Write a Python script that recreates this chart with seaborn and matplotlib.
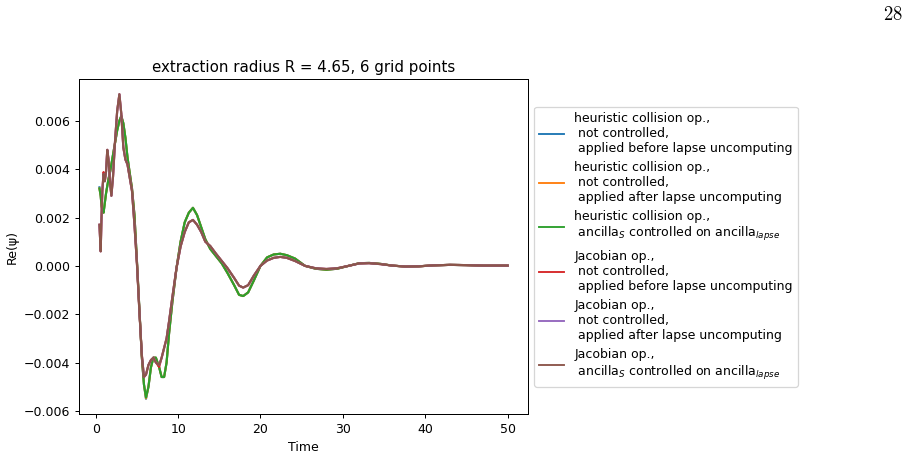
import matplotlib
matplotlib.use("Agg")
import matplotlib.pyplot as plt
import seaborn as sns

# time samples
time = [0.45, 0.6, 0.7, 0.8, 0.95, 1.1, 1.25, 1.4, 1.55, 1.75, 1.9, 2.1, 2.35, 2.6,
        2.87, 3.1, 3.35, 3.6, 3.85, 4.1, 4.4, 4.7, 5.0, 5.3, 5.6, 5.85, 6.1, 6.4,
        6.7, 7.0, 7.3, 7.7, 8.0, 8.3, 8.6, 8.9, 9.3, 9.8, 10.3, 10.8, 11.3, 11.8,
        12.3, 12.8, 13.3, 13.9, 14.6, 15.3, 16.0, 16.8, 17.4, 17.9, 18.5, 19.2,
        20.0, 20.8, 21.6, 22.4, 23.2, 24.2, 25.4, 26.7, 28.0, 29.3, 30.7, 32.0,
        33.2, 34.6, 36.0, 37.6, 39.2, 41.0, 43.0, 45.0, 47.0, 50.0]

# heuristic collision op., ancilla_S controlled on ancilla_lapse (green)
heur_ctrl = [0.0032, 0.0029, 0.0025, 0.0023, 0.0022, 0.0026, 0.0030, 0.0033, 0.0036,
             0.0039, 0.0042, 0.0046, 0.0051, 0.0056, 0.0060, 0.0062, 0.0059, 0.0053,
             0.0045, 0.0039, 0.0032, 0.0021, 0.0002, -0.0018, -0.0038, -0.0049,
             -0.00545, -0.0050, -0.0042, -0.0038, -0.0038, -0.0042, -0.0046, -0.0046,
             -0.0040, -0.0028, -0.0015, -0.0001, 0.0010, 0.0018, 0.0022, 0.0024,
             0.0021, 0.0016, 0.0011, 0.0007, 0.0004, 0.0001, -0.0003, -0.0008,
             -0.0012, -0.00125, -0.0011, -0.0006, 0.0000, 0.00035, 0.00047, 0.0005,
             0.00044, 0.0003, 0.0000, -0.00012, -0.00016, -0.00012, 0.0000, 0.00011,
             0.00012, 0.00008, 0.00001, -0.00003, -0.00002, 0.00002, 0.00004,
             0.00003, 0.00001, 0.00001]

# heuristic, not controlled, before / after lapse uncomputing (blue, orange)
heur_before = [0.00325, 0.0029, 0.0025, 0.0023, 0.0022, 0.0026, 0.0030, 0.0033, 0.0036,
               0.0039, 0.0042, 0.0046, 0.0051, 0.0056, 0.0060, 0.0062, 0.0059, 0.0053,
               0.0045, 0.0039, 0.0032, 0.0021, 0.0002, -0.0018, -0.0038, -0.0049,
               -0.0055, -0.0050, -0.0042, -0.0038, -0.0038, -0.0042, -0.0046, -0.0046,
               -0.0040, -0.0028, -0.0015, -0.0001, 0.0010, 0.0018, 0.0022, 0.0024,
               0.0021, 0.0016, 0.0011, 0.0007, 0.0004, 0.0001, -0.0003, -0.0008,
               -0.0012, -0.00125, -0.0011, -0.0006, 0.0000, 0.00035, 0.00047, 0.0005,
               0.00044, 0.0003, 0.0000, -0.00012, -0.00016, -0.00012, 0.0000, 0.00011,
               0.00012, 0.00008, 0.00001, -0.00003, -0.00002, 0.00002, 0.00004,
               0.00003, 0.00001, 0.00001]
heur_after = [0.0032, 0.0029, 0.0025, 0.0023, 0.0022, 0.0026, 0.0030, 0.0033, 0.0036,
              0.0039, 0.0042, 0.0046, 0.0051, 0.0056, 0.0060, 0.0062, 0.0059, 0.0053,
              0.0045, 0.0039, 0.0032, 0.0021, 0.0002, -0.0018, -0.0038, -0.0049,
              -0.00548, -0.0050, -0.0042, -0.0038, -0.0038, -0.0042, -0.0046, -0.0046,
              -0.0040, -0.0028, -0.0015, -0.0001, 0.0010, 0.0018, 0.0022, 0.0024,
              0.0021, 0.0016, 0.0011, 0.0007, 0.0004, 0.0001, -0.0003, -0.0008,
              -0.0012, -0.00125, -0.0011, -0.0006, 0.0000, 0.00035, 0.00047, 0.0005,
              0.00044, 0.0003, 0.0000, -0.00012, -0.00016, -0.00012, 0.0000, 0.00011,
              0.00012, 0.00008, 0.00001, -0.00003, -0.00002, 0.00002, 0.00004,
              0.00003, 0.00001, 0.00001]

# Jacobian op., ancilla_S controlled on ancilla_lapse (brown)
jac_ctrl = [0.0017, 0.0006, 0.0020, 0.0031, 0.0038, 0.0035, 0.0039, 0.0048, 0.0044,
            0.0034, 0.0029, 0.0037, 0.0052, 0.0064, 0.0071, 0.0063, 0.0049, 0.0044,
            0.0042, 0.0037, 0.0031, 0.0017, 0.0001, -0.0019, -0.0037, -0.0046,
            -0.0045, -0.0041, -0.0039, -0.0038, -0.0040, -0.0041, -0.0038, -0.0034,
            -0.0030, -0.0023, -0.0013, -0.0001, 0.0008, 0.0014, 0.0018, 0.0019,
            0.0017, 0.0014, 0.0010, 0.00082, 0.0005, 0.0002, -0.0001, -0.0005,
            -0.00082, -0.0009, -0.0008, -0.0004, 0.0000, 0.00022, 0.00033, 0.00037,
            0.00033, 0.0002, 0.0000, -0.0001, -0.00013, -0.0001, 0.0000, 0.0001,
            0.00011, 0.00007, 0.00001, -0.00003, -0.00002, 0.00002, 0.00004,
            0.00003, 0.00001, 0.00001]

# Jacobian, not controlled, before / after lapse uncomputing (red, purple)
jac_before = [0.0017, 0.0006, 0.0020, 0.0031, 0.00388, 0.0035, 0.0039, 0.0048, 0.0044,
              0.0034, 0.0029, 0.0037, 0.0052, 0.0064, 0.0071, 0.0063, 0.0049, 0.0044,
              0.0042, 0.0037, 0.0031, 0.0017, 0.0001, -0.0019, -0.0037, -0.0046,
              -0.0045, -0.0041, -0.0039, -0.0038, -0.0040, -0.00418, -0.0038, -0.0034,
              -0.0030, -0.0023, -0.0013, -0.0001, 0.0008, 0.0014, 0.0018, 0.0019,
              0.0017, 0.0014, 0.0010, 0.00082, 0.0005, 0.0002, -0.0001, -0.0005,
              -0.00082, -0.0009, -0.0008, -0.0004, 0.0000, 0.00022, 0.00033, 0.00037,
              0.00033, 0.0002, 0.0000, -0.0001, -0.00013, -0.0001, 0.0000, 0.0001,
              0.00011, 0.00007, 0.00001, -0.00003, -0.00002, 0.00002, 0.00004,
              0.00003, 0.00001, 0.00001]
jac_after = [0.0017, 0.0006, 0.0020, 0.0031, 0.0038, 0.0035, 0.0039, 0.0048, 0.0044,
             0.0034, 0.0029, 0.0037, 0.0052, 0.0064, 0.0071, 0.0063, 0.0049, 0.0044,
             0.0042, 0.0037, 0.0031, 0.0017, 0.0001, -0.0019, -0.0037, -0.0046,
             -0.0045, -0.0041, -0.0039, -0.0038, -0.0040, -0.0041, -0.0038, -0.0034,
             -0.0030, -0.0023, -0.0013, -0.0001, 0.0008, 0.0014, 0.0018, 0.0019,
             0.0017, 0.0014, 0.0010, 0.00082, 0.0005, 0.0002, -0.0001, -0.0005,
             -0.00082, -0.0009, -0.0008, -0.0004, 0.0000, 0.00022, 0.00033, 0.00037,
             0.00033, 0.0002, 0.0000, -0.0001, -0.00013, -0.0001, 0.0000, 0.0001,
             0.00011, 0.00007, 0.00001, -0.00003, -0.00002, 0.00002, 0.00004,
             0.00003, 0.00001, 0.00001]

labels = [
    "heuristic collision op.,\n not controlled,\n applied before lapse uncomputing",
    "heuristic collision op.,\n not controlled,\n applied after lapse uncomputing",
    "heuristic collision op.,\n ancilla$_S$ controlled on ancilla$_{lapse}$",
    "Jacobian op.,\n not controlled,\n applied before lapse uncomputing",
    "Jacobian op.,\n not controlled,\n applied after lapse uncomputing",
    "Jacobian op.,\n ancilla$_S$ controlled on ancilla$_{lapse}$",
]
series = [heur_before, heur_after, heur_ctrl, jac_before, jac_after, jac_ctrl]
colors = sns.color_palette("tab10", 6)

plt.rcParams["mathtext.fontset"] = "dejavusans"
dpi = 90
fig = plt.figure(figsize=(918 / dpi, 457 / dpi), dpi=dpi)
ax = fig.add_axes([0.0861, 0.0941, 0.4891, 0.733])

for vals, lab, col in zip(series, labels, colors):
    sns.lineplot(x=time, y=vals, ax=ax, label=lab, color=col, linewidth=1.7)

ax.set_title("extraction radius R = 4.65, 6 grid points")
ax.set_xlabel("Time")
ax.set_ylabel("Re(ψ)")
leg = ax.legend(loc="center left", bbox_to_anchor=(1, 0.5))
for h in leg.get_lines():
    h.set_linewidth(1.5)

# page number of the document the chart sits in
fig.text(0.984, 0.99, r"$\mathrm{28}$", ha="right", va="top", fontsize=15,
         math_fontfamily="cm")

fig.savefig("out.png", dpi=dpi)
